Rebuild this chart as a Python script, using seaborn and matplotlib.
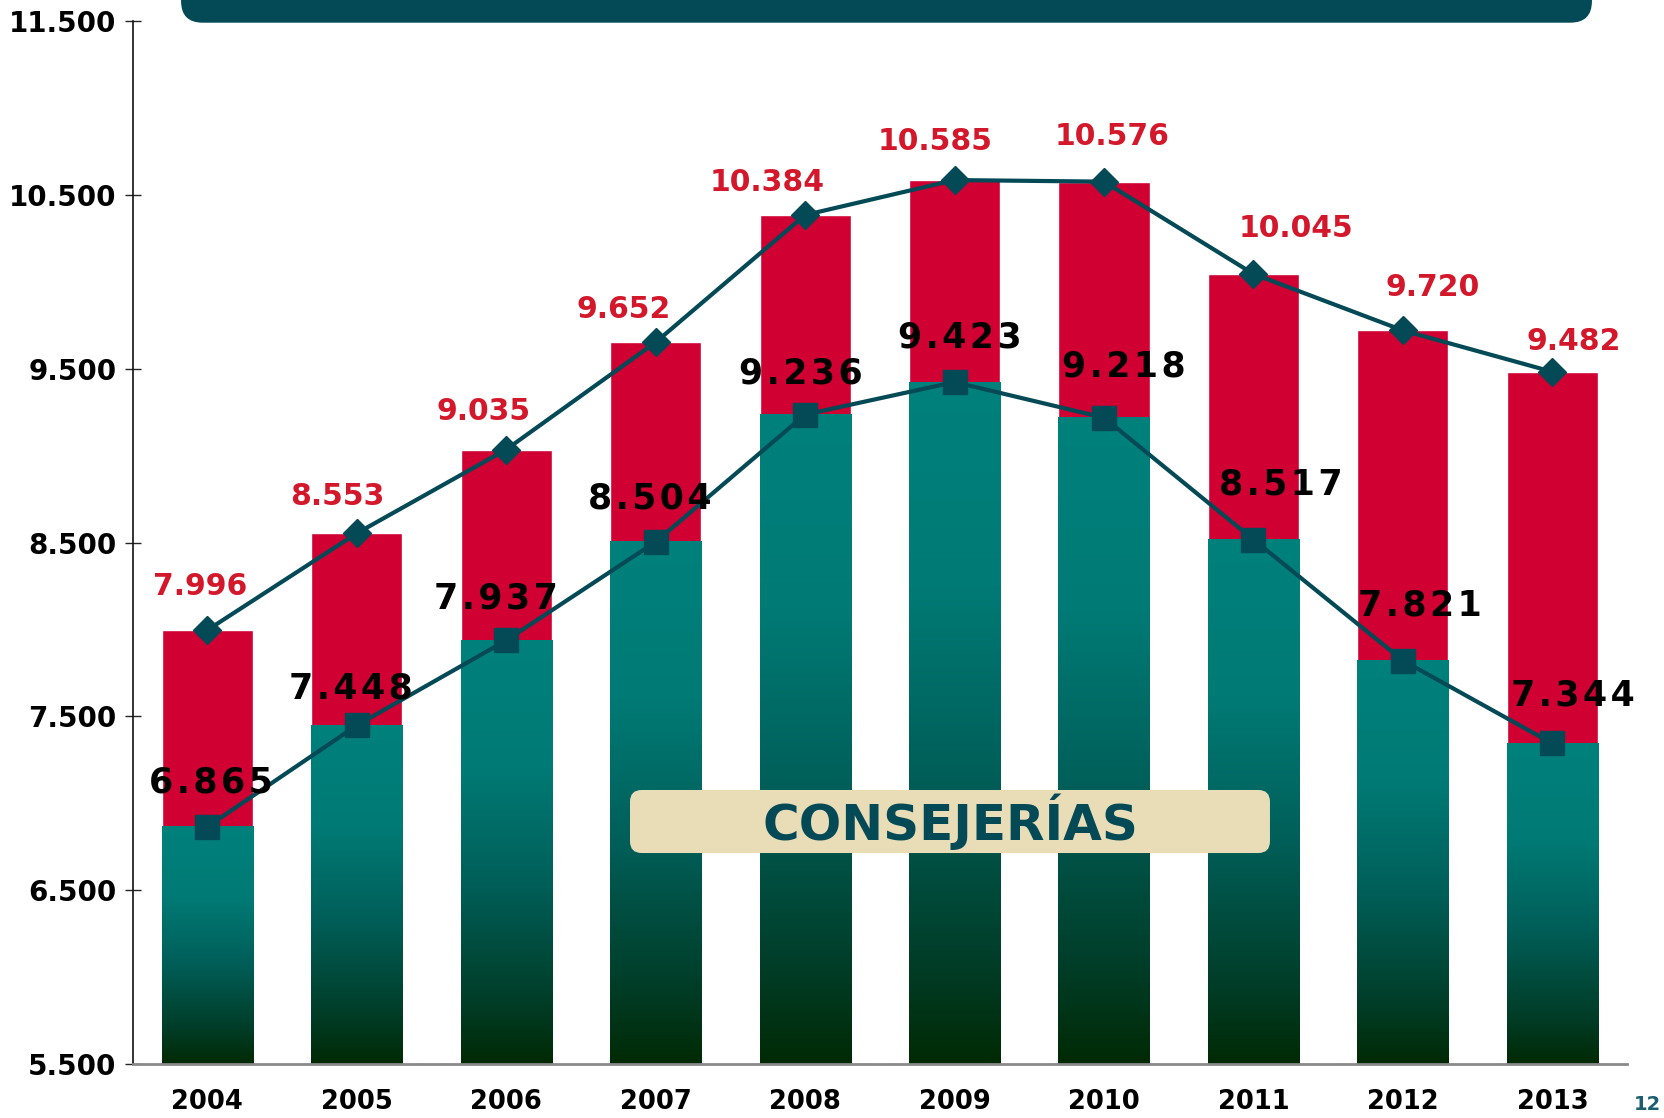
import numpy as np
import pandas as pd
import seaborn as sns
import matplotlib.pyplot as plt
from matplotlib.patches import FancyBboxPatch
from matplotlib.colors import LinearSegmentedColormap

# data
years = ["2004", "2005", "2006", "2007", "2008", "2009", "2010", "2011", "2012", "2013"]
totals = [7996, 8553, 9035, 9652, 10384, 10585, 10576, 10045, 9720, 9482]
consejerias = [6865, 7448, 7937, 8504, 9236, 9423, 9218, 8517, 7821, 7344]
y_ticks = [5500, 6500, 7500, 8500, 9500, 10500, 11500]

# label nudges (pixels, reference scale)
red_dx = [-7, -18, -21, -30, -36, -18, 8, 40, 28, 20]
red_dy = [41, 35, 36, 31, 31, 36, 43, 43, 40, 29]
blk_dx = [3, -6, -10, -6, -4, 5, 19, 26, 16, 19]
blk_dy = [42, 35, 39, 41, 39, 42, 48, 52, 52, 45]

RED = "#D00032"
RED_TXT = "#D4182B"
TEAL = "#00817C"
DARK = "#002A04"
LINE = "#034A56"
YMIN, YMAX = 5500, 11500
HAIR = "\u200a"

sns.set_style("white")
plt.rcParams["font.family"] = ["DejaVu Sans"]


def fmt(v, spaced=False):
    s = f"{v:,}".replace(",", ".")
    return HAIR.join(s) if spaced else s


df = pd.DataFrame({"year": years, "total": totals, "cons": consejerias})

fig = plt.figure(figsize=(16.64, 11.18), dpi=100)
ax = fig.add_axes([0.0797, 0.0483, 0.8981, 0.9329])

sns.barplot(data=df, x="year", y="total", color=RED, saturation=1, width=0.61, ax=ax, zorder=1)
n_red = len(ax.patches)
sns.barplot(data=df, x="year", y="cons", color=TEAL, saturation=1, width=0.61, ax=ax, zorder=2)

# gradient fill on the teal bars (per bar, dark at the base)
cmap = LinearSegmentedColormap.from_list(
    "grad", [(0.0, DARK), (0.14, "#003C26"), (0.42, "#005E58"), (0.7, "#007A75"), (1.0, TEAL)])
grad = np.linspace(0, 1, 256).reshape(-1, 1)
for p in ax.patches[n_red:]:
    x0, w, h = p.get_x(), p.get_width(), p.get_height()
    ax.imshow(grad, extent=[x0, x0 + w, YMIN, h], origin="lower", cmap=cmap,
              aspect="auto", zorder=2, interpolation="bicubic")
    p.set_visible(False)

xs = np.arange(len(years))
ax.plot(xs, totals, color=LINE, lw=3, marker="D", ms=14, zorder=4)
ax.plot(xs, consejerias, color=LINE, lw=3, marker="s", ms=17, zorder=4)

k = 1.061 * 0.72
for i in range(len(years)):
    ax.annotate(fmt(totals[i]), (xs[i], totals[i]),
                xytext=(red_dx[i] * k, red_dy[i] * k), textcoords="offset points",
                ha="center", va="center", fontsize=21.5, color=RED_TXT,
                fontweight="semibold", zorder=6)
    ax.annotate(fmt(consejerias[i], True), (xs[i], consejerias[i]),
                xytext=(blk_dx[i] * k, blk_dy[i] * k), textcoords="offset points",
                ha="center", va="center", fontsize=25, color="black",
                fontweight="bold", zorder=6)

ax.set_xlim(-0.5, len(years) - 0.5)
ax.set_ylim(YMIN, YMAX)
ax.set_yticks(y_ticks)
ax.set_yticklabels([fmt(v) for v in y_ticks], fontsize=20, fontweight="bold", color="black")
ax.set_xticks(xs)
ax.set_xticklabels(years, fontsize=18.5, fontweight="bold", color="black")
ax.set_xticks(np.arange(len(years) + 1) - 0.5, minor=True)
ax.tick_params(axis="x", which="major", length=0, pad=18)
ax.tick_params(axis="x", which="minor", direction="inout", length=13, width=1.2, color="#222222")
ax.tick_params(axis="y", direction="inout", length=11.5, width=1, pad=6, left=True)
ax.set_xlabel("")
ax.set_ylabel("")
for s in ["top", "right"]:
    ax.spines[s].set_visible(False)
ax.spines["left"].set_color("#111111")
ax.spines["left"].set_linewidth(1.2)
ax.spines["bottom"].set_color("#8a8a8a")
ax.spines["bottom"].set_linewidth(2)

# top banner
asp = 1664 / 1118
fig.patches.append(FancyBboxPatch((0.1088, 0.9797), 0.8479, 0.08, transform=fig.transFigure,
                                  boxstyle="round,pad=0,rounding_size=0.013",
                                  mutation_aspect=asp, fc=LINE, ec="none", zorder=5))

# CONSEJERÍAS box
fig.patches.append(FancyBboxPatch((0.3786, 0.2370), 0.3846, 0.0564, transform=fig.transFigure,
                                  boxstyle="round,pad=0,rounding_size=0.007",
                                  mutation_aspect=asp, fc="#E9DDB8", ec="none", zorder=5))
fig.text(0.571, 0.2652, "CONSEJERÍAS", ha="center", va="center", fontsize=36,
         fontweight="bold", color=LINE, zorder=6)

fig.text(0.982, 0.004, "12", ha="left", va="bottom", fontsize=14,
         fontweight="bold", color="#1B5E70")

fig.savefig("out.png", dpi=100)
